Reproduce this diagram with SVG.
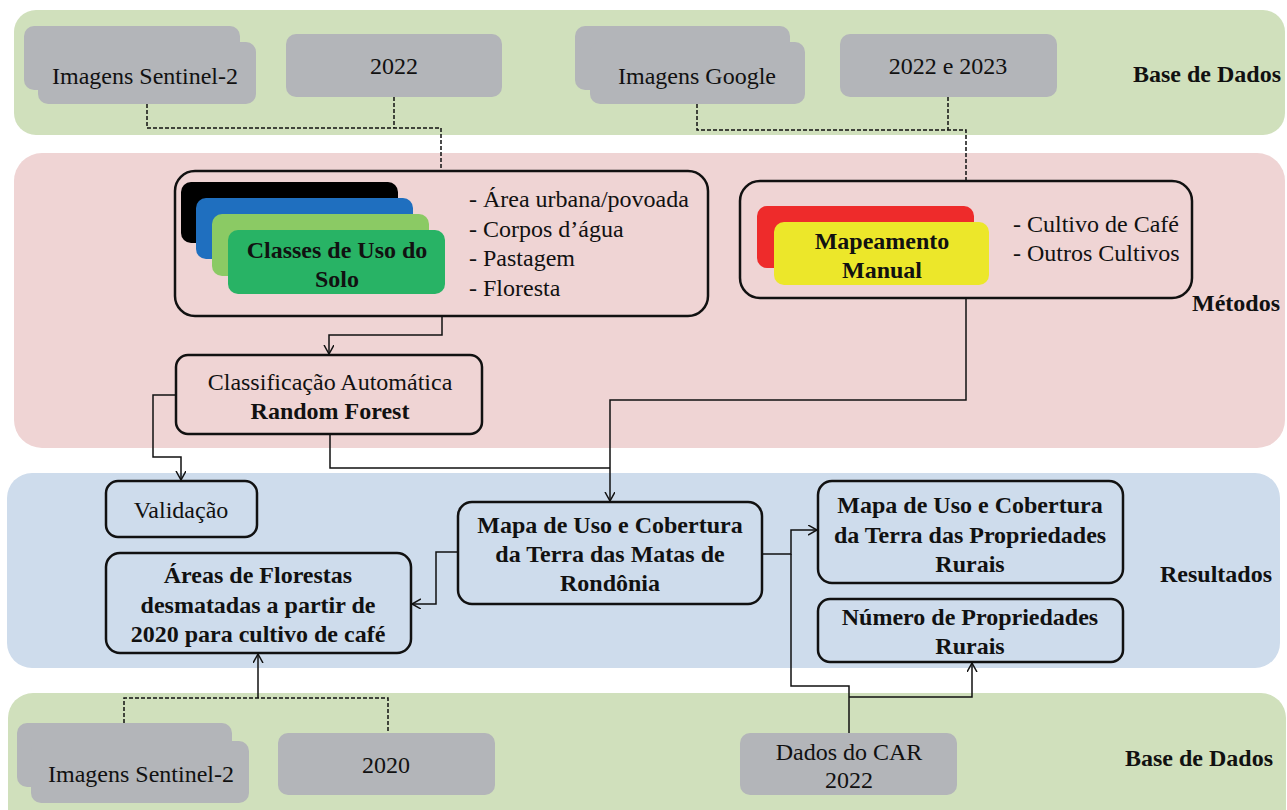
<svg xmlns="http://www.w3.org/2000/svg" width="1287" height="810" viewBox="0 0 1287 810">
<defs>
<style>
text{font-family:"Liberation Serif","Times New Roman",serif;font-size:24px;fill:#111;}
.b{font-weight:bold;}
.m{text-anchor:middle;}
.gray{fill:#b3b5b9;}
.box{fill:none;stroke:#111;stroke-width:2.5;}
.con{fill:none;stroke:#111;stroke-width:1.5;}
.dash{fill:none;stroke:#111;stroke-width:1.5;stroke-dasharray:4,2;}
</style>
<marker id="arr" markerWidth="12" markerHeight="12" refX="9" refY="5" orient="auto" markerUnits="userSpaceOnUse">
<path d="M0,0 L9,5 L0,10" fill="none" stroke="#111" stroke-width="1.5"/>
</marker>
</defs>
<rect width="1287" height="810" fill="#fff"/>
<g id="bands">
<rect x="14" y="10" width="1271" height="125" rx="22" fill="#d0e0bc"/>
<rect x="14" y="153" width="1271" height="295" rx="28" fill="#efd4d4"/>
<rect x="7" y="473" width="1273" height="195" rx="25" fill="#cedcec"/>
<rect x="8" y="693" width="1278" height="140" rx="25" fill="#d0e0bc"/>
<text class="b" x="1133" y="82">Base de Dados</text>
<text class="b" x="1192" y="311">Métodos</text>
<text class="b" x="1160" y="582">Resultados</text>
<text class="b" x="1125" y="766">Base de Dados</text>
</g>
<g id="sentinel-top">
<rect class="gray" x="24" y="26" width="216" height="64" rx="10"/>
<rect class="gray" x="38" y="42" width="218" height="62" rx="10"/>
<text class="m" x="145" y="84">Imagens Sentinel-2</text>
</g>
<g id="year-2022">
<rect class="gray" x="286" y="34" width="216" height="63" rx="10"/>
<text class="m" x="394" y="74">2022</text>
</g>
<g id="google">
<rect class="gray" x="575" y="26" width="215" height="64" rx="10"/>
<rect class="gray" x="590" y="42" width="215" height="62" rx="10"/>
<text class="m" x="697" y="84">Imagens Google</text>
</g>
<g id="year-2022-2023">
<rect class="gray" x="840" y="34" width="217" height="63" rx="10"/>
<text class="m" x="948" y="74">2022 e 2023</text>
</g>
<g id="classes">
<rect class="box" x="175" y="171" width="533" height="145" rx="20"/>
<rect x="181" y="182" width="217" height="61" rx="10" fill="#000"/>
<rect x="196" y="198" width="217" height="61" rx="10" fill="#1f6fbf"/>
<rect x="212" y="214" width="217" height="62" rx="10" fill="#8bca64"/>
<rect x="228" y="230" width="217" height="64" rx="10" fill="#28b365"/>
<text class="b m" x="337" y="258">Classes de Uso do</text>
<text class="b m" x="337" y="287">Solo</text>
<text x="469" y="207">- Área urbana/povoada</text>
<text x="469" y="237">- Corpos d’água</text>
<text x="469" y="266">- Pastagem</text>
<text x="469" y="296">- Floresta</text>
</g>
<g id="mapeamento">
<rect class="box" x="740" y="181" width="452" height="117" rx="20"/>
<rect x="757" y="206" width="217" height="62" rx="10" fill="#ee2b2b"/>
<rect x="774" y="222" width="215" height="63" rx="10" fill="#ece72a"/>
<text class="b m" x="882" y="249">Mapeamento</text>
<text class="b m" x="882" y="278">Manual</text>
<text x="1013" y="232">- Cultivo de Café</text>
<text x="1013" y="261">- Outros Cultivos</text>
</g>
<g id="classificacao">
<rect class="box" x="176" y="355" width="306" height="79" rx="12"/>
<text class="m" x="330" y="390">Classificação Automática</text>
<text class="b m" x="330" y="419">Random Forest</text>
</g>
<g id="validacao">
<rect class="box" x="106" y="481" width="151" height="56" rx="12"/>
<text class="m" x="181" y="518">Validação</text>
</g>
<g id="areas">
<rect class="box" x="106" y="553" width="305" height="100" rx="14"/>
<text class="b m" x="258" y="583">Áreas de Florestas</text>
<text class="b m" x="258" y="613">desmatadas a partir de</text>
<text class="b m" x="258" y="642">2020 para cultivo de café</text>
</g>
<g id="mapa-matas">
<rect class="box" x="458" y="502" width="304" height="102" rx="14"/>
<text class="b m" x="610" y="533">Mapa de Uso e Cobertura</text>
<text class="b m" x="610" y="562">da Terra das Matas de</text>
<text class="b m" x="610" y="591">Rondônia</text>
</g>
<g id="mapa-propriedades">
<rect class="box" x="818" y="481" width="305" height="102" rx="14"/>
<text class="b m" x="970" y="513">Mapa de Uso e Cobertura</text>
<text class="b m" x="970" y="543">da Terra das Propriedades</text>
<text class="b m" x="970" y="572">Rurais</text>
</g>
<g id="numero">
<rect class="box" x="818" y="599" width="305" height="63" rx="12"/>
<text class="b m" x="970" y="625">Número de Propriedades</text>
<text class="b m" x="970" y="654">Rurais</text>
</g>
<g id="sentinel-bottom">
<rect class="gray" x="17" y="723" width="215" height="64" rx="10"/>
<rect class="gray" x="31" y="741" width="218" height="62" rx="10"/>
<text class="m" x="141" y="782">Imagens Sentinel-2</text>
</g>
<g id="year-2020">
<rect class="gray" x="278" y="733" width="217" height="62" rx="10"/>
<text class="m" x="386" y="773">2020</text>
</g>
<g id="car">
<rect class="gray" x="740" y="733" width="217" height="62" rx="10"/>
<text class="m" x="849" y="760">Dados do CAR</text>
<text class="m" x="849" y="788">2022</text>
</g>
<g id="connectors">
<path class="dash" d="M147,104 V128 H441 V171"/>
<path class="dash" d="M394,97 V128"/>
<path class="dash" d="M697,104 V130 H966 V181"/>
<path class="dash" d="M948,97 V130"/>
<path class="con" d="M442,316 V335 H329 V354" marker-end="url(#arr)"/>
<path class="con" d="M176,395 H153 V457 H181 V480" marker-end="url(#arr)"/>
<path class="con" d="M330,434 V468 H610"/>
<path class="con" d="M966,298 V400 H610 V501" marker-end="url(#arr)"/>
<path class="con" d="M458,552 H436 V604 H412" marker-end="url(#arr)"/>
<path class="con" d="M762,554 H791 V530 H817" marker-end="url(#arr)"/>
<path class="con" d="M791,554 V686 H849 V733"/>
<path class="con" d="M849,697 H972 V663" marker-end="url(#arr)"/>
<path class="dash" d="M124,723 V698 H388 V733"/>
<path class="con" d="M258,698 V654" marker-end="url(#arr)"/>
</g>
</svg>
